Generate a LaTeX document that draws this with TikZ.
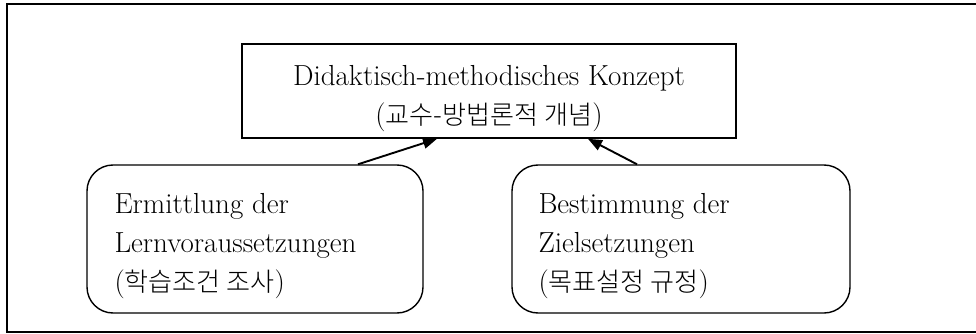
\documentclass[tikz,border=0pt]{standalone}
\usepackage{fontspec}
\newfontfamily\kr[Scale=0.9]{Noto Sans CJK KR Light}
\usepackage{tikz}
\usetikzlibrary{
  positioning,
  arrows.meta
}

\tikzset{
  conceptbox/.style={draw,line width=1.6pt,minimum width=494pt,minimum height=94pt,inner sep=0pt},
  stagebox/.style={draw,line width=1.4pt,rounded corners=26pt,minimum height=148pt,inner sep=0pt},
  boxtext/.style={inner sep=0pt,font=\fontsize{29}{39}\selectfont}
}

\begin{document}
\begin{tikzpicture}[x=1pt,y=-1pt,>={Triangle[length=14pt,width=11pt]}]
            \useasboundingbox (0,0) rectangle (976,334);
            \draw[line width=1.6pt] (976,4) -| (7,332) -- (976,332);
            % boxes
            \node[conceptbox] (konzept) at (489,91) {};
            \node[stagebox,minimum width=336pt] (ermittlung) at (255,239) {};
            \node[stagebox,minimum width=338pt] (bestimmung) at (681,239) {};
            % texts
            \node[boxtext,align=center,yshift=-7.5pt] (konzepttext) at (konzept) {Didaktisch-methodisches Konzept\\({\kr 교수-방법론적 개념})};
            \node[boxtext,align=left,right=28pt of ermittlung.west,yshift=-7.5pt] (ermittlungtext) {Ermittlung der\\Lernvoraussetzungen\\({\kr 학습조건 조사})};
            \node[boxtext,align=left,right=27pt of bestimmung.west,yshift=-7.5pt] (bestimmungtext) {Bestimmung der\\Zielsetzungen\\({\kr 목표설정 규정})};
            % arrows
            \draw[->,line width=1.9pt] ([xshift=103pt]ermittlung.north) -- ([xshift=-52pt]konzept.south);
            \draw[->,line width=1.9pt] ([xshift=-44pt]bestimmung.north) -- ([xshift=99pt]konzept.south);
        \end{tikzpicture}
\end{document}
